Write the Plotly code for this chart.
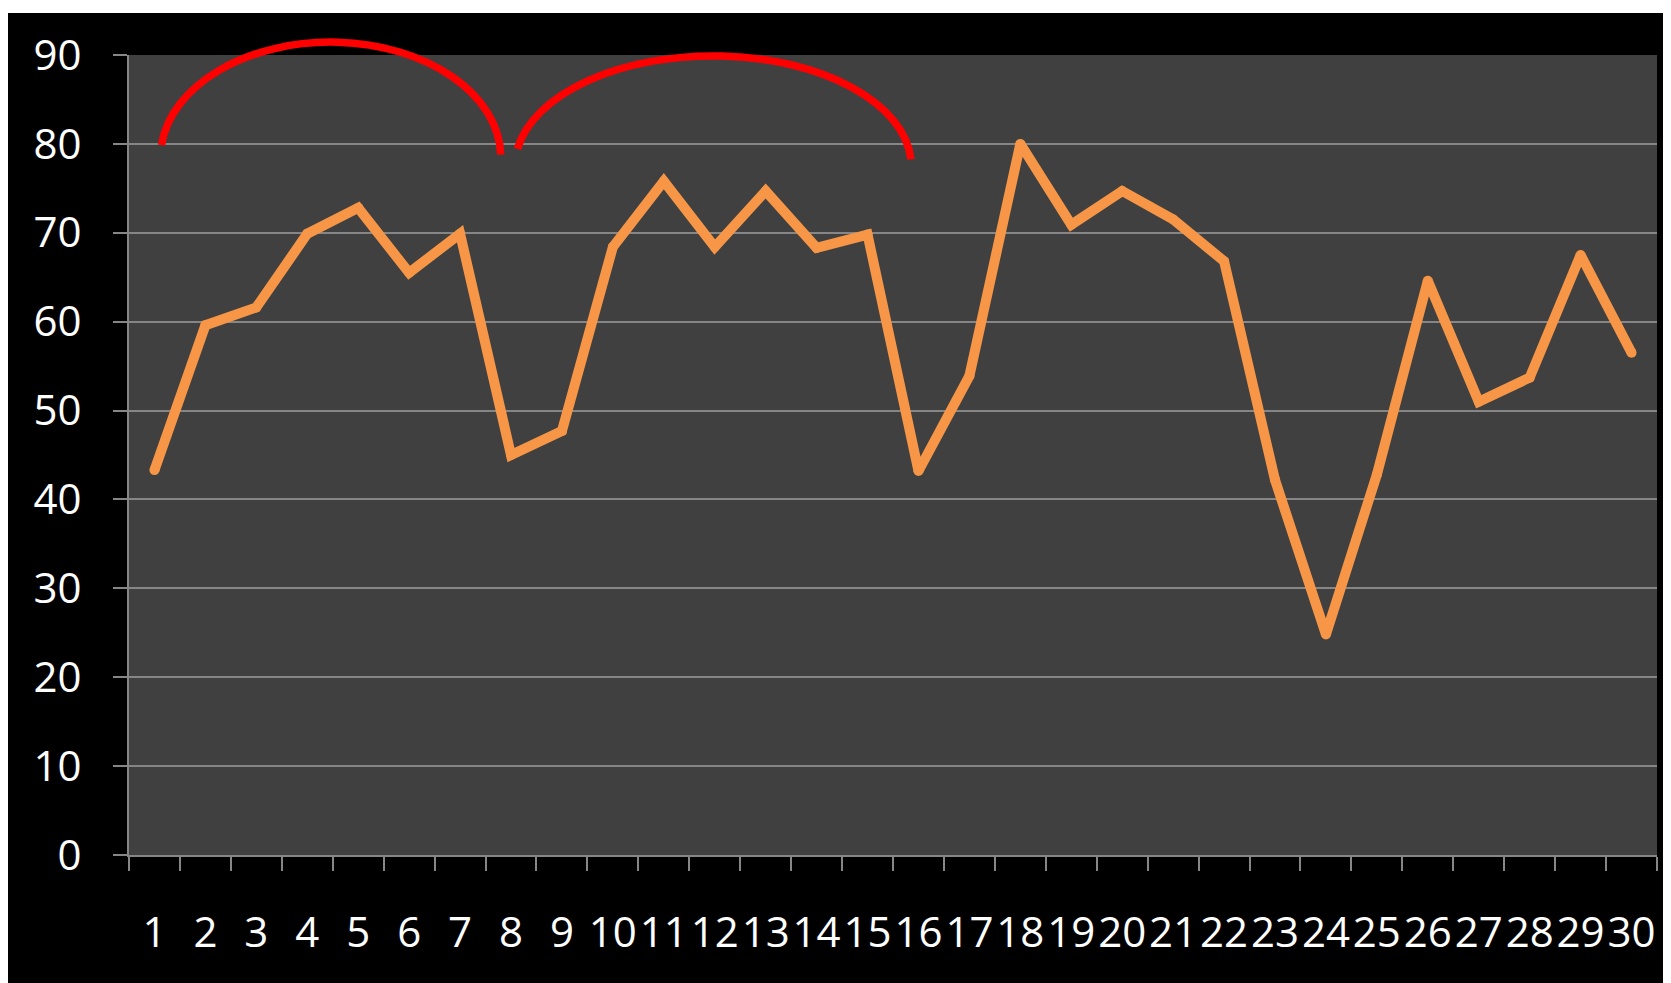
import math
import plotly.graph_objects as go

# ---- data ----
days = list(range(1, 31))
day_labels = [str(d) for d in days]
values = [43.3, 59.6, 61.6, 69.9, 72.8, 65.5, 69.9, 45.0, 47.7, 68.4,
          75.8, 68.4, 74.7, 68.3, 69.8, 43.2, 53.9, 80.0, 70.9, 74.7,
          71.5, 66.8, 42.2, 24.8, 42.8, 64.6, 51.0, 53.7, 67.5, 56.5]
y_ticks = [0, 10, 20, 30, 40, 50, 60, 70, 80, 90]

# red hand-drawn arcs (ellipse centre x/y in data units, semi-axes, start/end angle deg)
arc_cx = [4.46, 11.97]
arc_cy = [78.5, 77.5]
arc_ax = [3.34, 3.89]
arc_by = [12.95, 12.4]
arc_t0 = [174.0, 171.0]
arc_t1 = [1.3, 3.5]

X_RANGE = [0.5, 30.5]
Y_RANGE = [0, 90]

# page body has an 8px margin, so the figure is sized to fill the rest
W, H = 1663, 975
ML, MR, MT, MB = 121, 14, 47, 128


def to_paper(x, y):
    px = (x - X_RANGE[0]) / (X_RANGE[1] - X_RANGE[0])
    py = (y - Y_RANGE[0]) / (Y_RANGE[1] - Y_RANGE[0])
    return px, py


def ellipse_path(cx, cy, a, b, t0, t1):
    # cubic Bezier approximation of an elliptical arc (data units -> paper units)
    n = 4
    ts = [math.radians(t0 + (t1 - t0) * i / n) for i in range(n + 1)]
    pt = lambda t: (cx + a * math.cos(t), cy + b * math.sin(t))
    d = lambda t: (-a * math.sin(t), b * math.cos(t))
    p0 = to_paper(*pt(ts[0]))
    s = f"M {p0[0]:.5f},{p0[1]:.5f}"
    for i in range(n):
        ta, tb = ts[i], ts[i + 1]
        k = 4.0 / 3.0 * math.tan((tb - ta) / 4.0)
        pa, pb = pt(ta), pt(tb)
        da, db = d(ta), d(tb)
        c1 = to_paper(pa[0] + k * da[0], pa[1] + k * da[1])
        c2 = to_paper(pb[0] - k * db[0], pb[1] - k * db[1])
        e = to_paper(*pb)
        s += f" C {c1[0]:.5f},{c1[1]:.5f} {c2[0]:.5f},{c2[1]:.5f} {e[0]:.5f},{e[1]:.5f}"
    return s


fig = go.Figure()
fig.add_trace(go.Scatter(
    x=days, y=values, mode="lines+markers",
    line=dict(color="#F79646", width=10),
    marker=dict(color="#F79646", size=10, line=dict(width=0)),
    hoverinfo="skip", showlegend=False,
))

shapes = []
for i in range(len(arc_cx)):
    shapes.append(dict(
        type="path", xref="paper", yref="paper", layer="above",
        path=ellipse_path(arc_cx[i], arc_cy[i], arc_ax[i], arc_by[i], arc_t0[i], arc_t1[i]),
        line=dict(color="#FF0000", width=7.5),
    ))

ph = H - MT - MB
# thin white strip on top of the black picture
shapes.append(dict(type="rect", xref="paper", yref="paper", layer="above",
                   x0=-0.2, x1=1.2, y0=(H - MB - 5) / ph, y1=1.3,
                   fillcolor="white", line=dict(width=0)))

grey = "#868686"
fig.update_layout(
    width=W, height=H,
    margin=dict(l=ML, r=MR, t=MT, b=MB, pad=0),
    paper_bgcolor="black", plot_bgcolor="#404040",
    font=dict(family="Open Sans", size=42, color="white"),
    shapes=shapes,
    xaxis=dict(
        range=X_RANGE, tickmode="array", tickvals=days, ticktext=day_labels,
        tickangle=0, ticks="", showgrid=False, zeroline=False,
        showline=True, linecolor=grey, linewidth=2,
        ticklabelstandoff=40,
        minor=dict(tickmode="array", tickvals=[d - 0.5 for d in days] + [30.5],
                   ticks="outside", ticklen=14, tickcolor=grey, tickwidth=2,
                   showgrid=False),
        fixedrange=True,
    ),
    yaxis=dict(
        range=Y_RANGE, tickmode="array", tickvals=y_ticks,
        ticktext=[str(v) for v in y_ticks],
        ticks="outside", ticklen=14, tickcolor=grey, tickwidth=2,
        showgrid=True, gridcolor=grey, gridwidth=1.5, zeroline=False,
        showline=True, linecolor=grey, linewidth=2,
        ticklabelstandoff=23,
        fixedrange=True,
    ),
)

fig.write_html("out.html", include_plotlyjs=True, config={"displayModeBar": False})
